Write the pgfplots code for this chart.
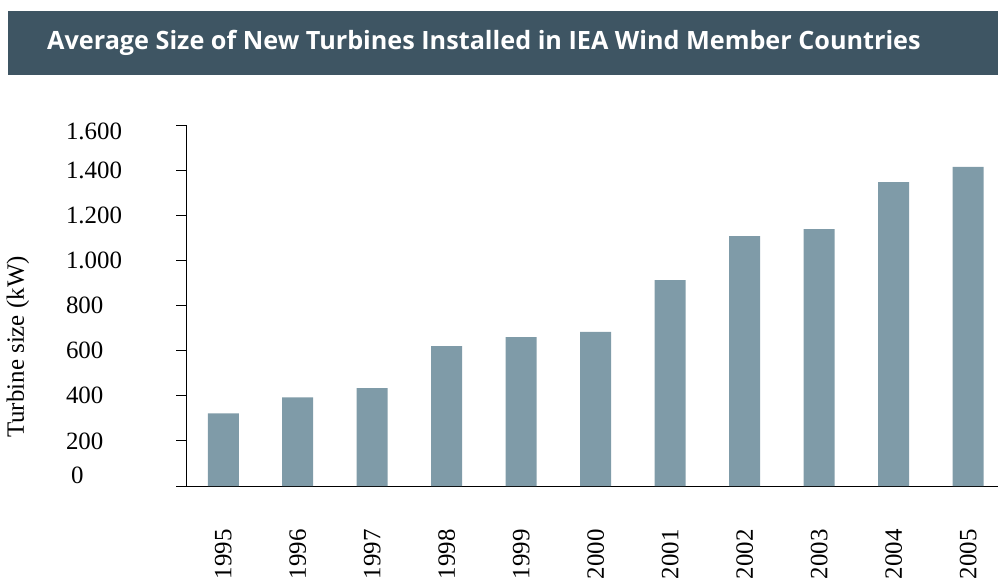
\documentclass[border=0pt]{standalone}
\usepackage{fontspec}
\setmainfont{Liberation Serif}
\newfontfamily\titlefont{Open Sans}
\usepackage{pgfplots}
\pgfplotsset{compat=1.18}
\definecolor{barblue}{HTML}{7F9BA8}
\definecolor{titlebg}{HTML}{3E5563}
\begin{document}
\begin{tikzpicture}[x=1bp,y=1bp]
\useasboundingbox (0,0) rectangle (998,-582);
\fill[titlebg] (8,-11) rectangle (998,-75);
\node[anchor=west, text=white, inner sep=0pt, font=\titlefont\bfseries\fontsize{25.3}{29}\selectfont] at (47,-43) {Average Size of New Turbines Installed in IEA Wind Member Countries};
\begin{axis}[
  at={(186bp,-486bp)}, anchor=south west,
  scale only axis, width=812bp, height=361bp,
  xmin=-0.5, xmax=10.4, ymin=0, ymax=1600,
  axis lines*=left,
  axis line style={line width=1bp, black},
  tick align=outside,
  major tick length=10bp,
  tick style={line width=1bp, black},
  ytick={0,200,...,1600},
  yticklabels={\hspace*{5bp}\raisebox{2.5bp}[0pt][0pt]{0},200,400,600,800,1.000,1.200,1.400,\raisebox{-14.5bp}[0pt][0pt]{1.600}},
  yticklabel style={font=\fontsize{25}{30}\selectfont, anchor=west, xshift=-113.5bp},
  xtick={0,...,10},
  xticklabels={1995,1996,1997,1998,1999,2000,2001,2002,2003,2004,2005},
  xtick style={draw=none},
  xticklabel style={font=\fontsize{25}{30}\selectfont, rotate=90, anchor=east},
  xticklabel shift=30bp,
  extra x ticks={-0.5,0.5,...,9.5},
  extra x tick labels={},
  extra x tick style={major tick length=8bp, tick style={draw=black, line width=1bp}},
  ylabel={Turbine size (kW)},
  every axis y label/.style={at={(axis description cs:0,0.385)}, xshift=-168bp, rotate=90, anchor=center, font=\fontsize{25}{30}\selectfont},
]
\addplot[ybar, bar width=31bp, fill=barblue, draw=none] coordinates {
(0,322) (1,393) (2,434) (3,620) (4,660) (5,683) (6,913) (7,1108) (8,1139) (9,1347) (10,1414)
};
\end{axis}
\end{tikzpicture}
\end{document}
